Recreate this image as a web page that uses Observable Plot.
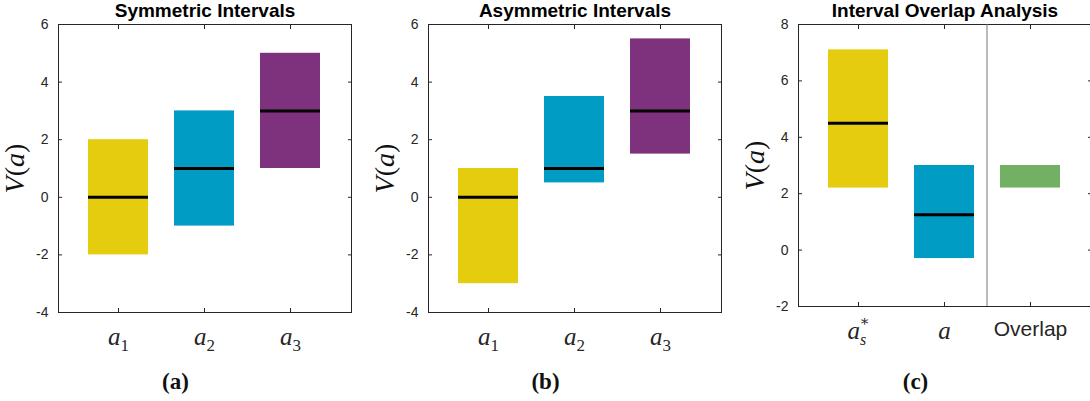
<!DOCTYPE html>
<html><head><meta charset="utf-8">
<script src="https://cdn.jsdelivr.net/npm/d3@7"></script>
<script src="https://cdn.jsdelivr.net/npm/@observablehq/plot@0.6"></script>
<style>
html,body{margin:0;padding:0;background:#fff;overflow:hidden;}
#row{display:flex;width:1120px;height:401px;}
.panel{width:370px;flex:none;position:relative;height:401px;}
.panel svg{display:block;}
.cap{position:absolute;left:0;width:351px;top:370px;text-align:center;font:bold 23px "Liberation Serif","DejaVu Serif",serif;color:#111;line-height:24px;}
</style></head><body><div id="row"></div>
<script>
// ---- data ----
const symCats = ["a1", "a2", "a3"];
const symLow = [-2, -1, 1];
const symHigh = [2, 3, 5];
const symMean = [0, 1, 3];

const asymCats = ["a1", "a2", "a3"];
const asymLow = [-3, 0.5, 1.5];
const asymHigh = [1, 3.5, 5.5];
const asymMean = [0, 1, 3];

const ovCats = ["as*", "a", "Overlap"];
const ovLow = [2.2, -0.3, 2.2];
const ovHigh = [7.1, 3.0, 3.0];
const ovMean = [4.5, 1.25, null];

const colorsAB = ["#E5CC0E", "#019CC3", "#7E327E"];
const colorsC = ["#E5CC0E", "#019CC3", "#72B163"];
const yTicksAB = [-4, -2, 0, 2, 4, 6];
const yTicksC = [-2, 0, 2, 4, 6, 8];
const yDomainAB = [-4, 6];
const yDomainC = [-2, 8];
const titles = ["Symmetric Intervals", "Asymmetric Intervals", "Interval Overlap Analysis"];
const captions = ["(a)", "(b)", "(c)"];
// tick label parts: [italic base, subscript, superscript]; null = plain text
const tickParts = {"a1": ["a", "1", ""], "a2": ["a", "2", ""], "a3": ["a", "3", ""], "as*": ["a", "s", "∗"], "a": ["a", "", ""], "Overlap": null};

const row = document.getElementById("row");
const sans = '"Liberation Sans", Arial, sans-serif';
const serif = '"Liberation Serif", "DejaVu Serif", serif';

function makePanel(cats, low, high, mean, colors, yDomain, yTicks, title, caption, marginBottom, separator) {
  const data = cats.map((c, i) => ({cat: c, lo: low[i], hi: high[i], mean: mean[i]}));
  const H = 360;
  const plot = Plot.plot({
    width: 370, height: H,
    marginLeft: 58, marginRight: 19, marginTop: 24, marginBottom,
    style: {fontFamily: sans, fontSize: "14px", color: "#262626", background: "#fff", overflow: "visible"},
    x: {type: "band", domain: cats, paddingInner: 0.3, paddingOuter: 0.35, label: null},
    y: {domain: yDomain, label: null},
    color: {type: "ordinal", domain: cats, range: colors},
    marks: [
      Plot.barY(data, {x: "cat", y1: "lo", y2: "hi", fill: "cat"}),
      Plot.tickY(data.filter(d => d.mean != null), {x: "cat", y: "mean", stroke: "#000", strokeWidth: 3}),
      Plot.frame({stroke: "#262626", strokeWidth: 1}),
      Plot.axisY(yTicks, {anchor: "left", tickSize: -4, tickPadding: 14, tickFormat: d => String(d), label: "V(a)", labelAnchor: "center", labelOffset: 54, fontSize: 14}),
      Plot.axisY(yTicks, {anchor: "right", tickSize: -4, tickFormat: () => "", label: null}),
      Plot.axisX({anchor: "bottom", tickSize: -4, tickPadding: 19, label: null, fontSize: 25}),
      Plot.axisX({anchor: "top", tickSize: -4, tickFormat: () => "", label: null}),
      Plot.text([title], {frameAnchor: "top", lineAnchor: "middle", dy: -14, fontWeight: "bold", fontSize: 19, fill: "#000"})
    ]
  });
  const svg = d3.select(plot);
  // rich tick labels
  svg.selectAll('g[aria-label="x-axis tick label"] text').each(function () {
    const t = d3.select(this);
    const key = t.text();
    if (!(key in tickParts)) return;
    const parts = tickParts[key];
    if (parts === null) { t.attr("font-size", 21).attr("font-family", sans); return; }
    t.text("").attr("font-family", serif);
    t.append("tspan").attr("font-style", "italic").text(parts[0]);
    if (parts[1]) {
      t.append("tspan").attr("font-size", parts[2] ? 16 : 17).attr("dy", 6).attr("font-style", /[a-z]/.test(parts[1]) ? "italic" : "normal").text(parts[1]);
    }
    if (parts[2]) {
      t.append("tspan").attr("font-size", 15).attr("dx", -7).attr("dy", -19).text(parts[2]);
    }
  });
  svg.selectAll('g[aria-label="y-axis label"] text').each(function () {
    const t = d3.select(this);
    t.text("").attr("font-family", serif).attr("font-size", 28).attr("fill", "#111");
    t.append("tspan").attr("font-style", "italic").text("V");
    t.append("tspan").text("(");
    t.append("tspan").attr("font-style", "italic").text("a");
    t.append("tspan").text(")");
  });
  if (separator) {
    const xs = plot.scale("x");
    const xv = xs.apply(separator) + xs.bandwidth + (xs.step - xs.bandwidth) / 2;
    svg.append("line").attr("x1", xv).attr("x2", xv).attr("y1", 24).attr("y2", H - marginBottom)
      .attr("stroke", "#777").attr("stroke-width", 1);
  }
  const div = document.createElement("div");
  div.className = "panel";
  div.appendChild(plot);
  const cap = document.createElement("div");
  cap.className = "cap";
  cap.textContent = caption;
  div.appendChild(cap);
  row.appendChild(div);
}

makePanel(symCats, symLow, symHigh, symMean, colorsAB, yDomainAB, yTicksAB, titles[0], captions[0], 48, null);
makePanel(asymCats, asymLow, asymHigh, asymMean, colorsAB, yDomainAB, yTicksAB, titles[1], captions[1], 48, null);
makePanel(ovCats, ovLow, ovHigh, ovMean, colorsC, yDomainC, yTicksC, titles[2], captions[2], 54, "a");
</script></body></html>
